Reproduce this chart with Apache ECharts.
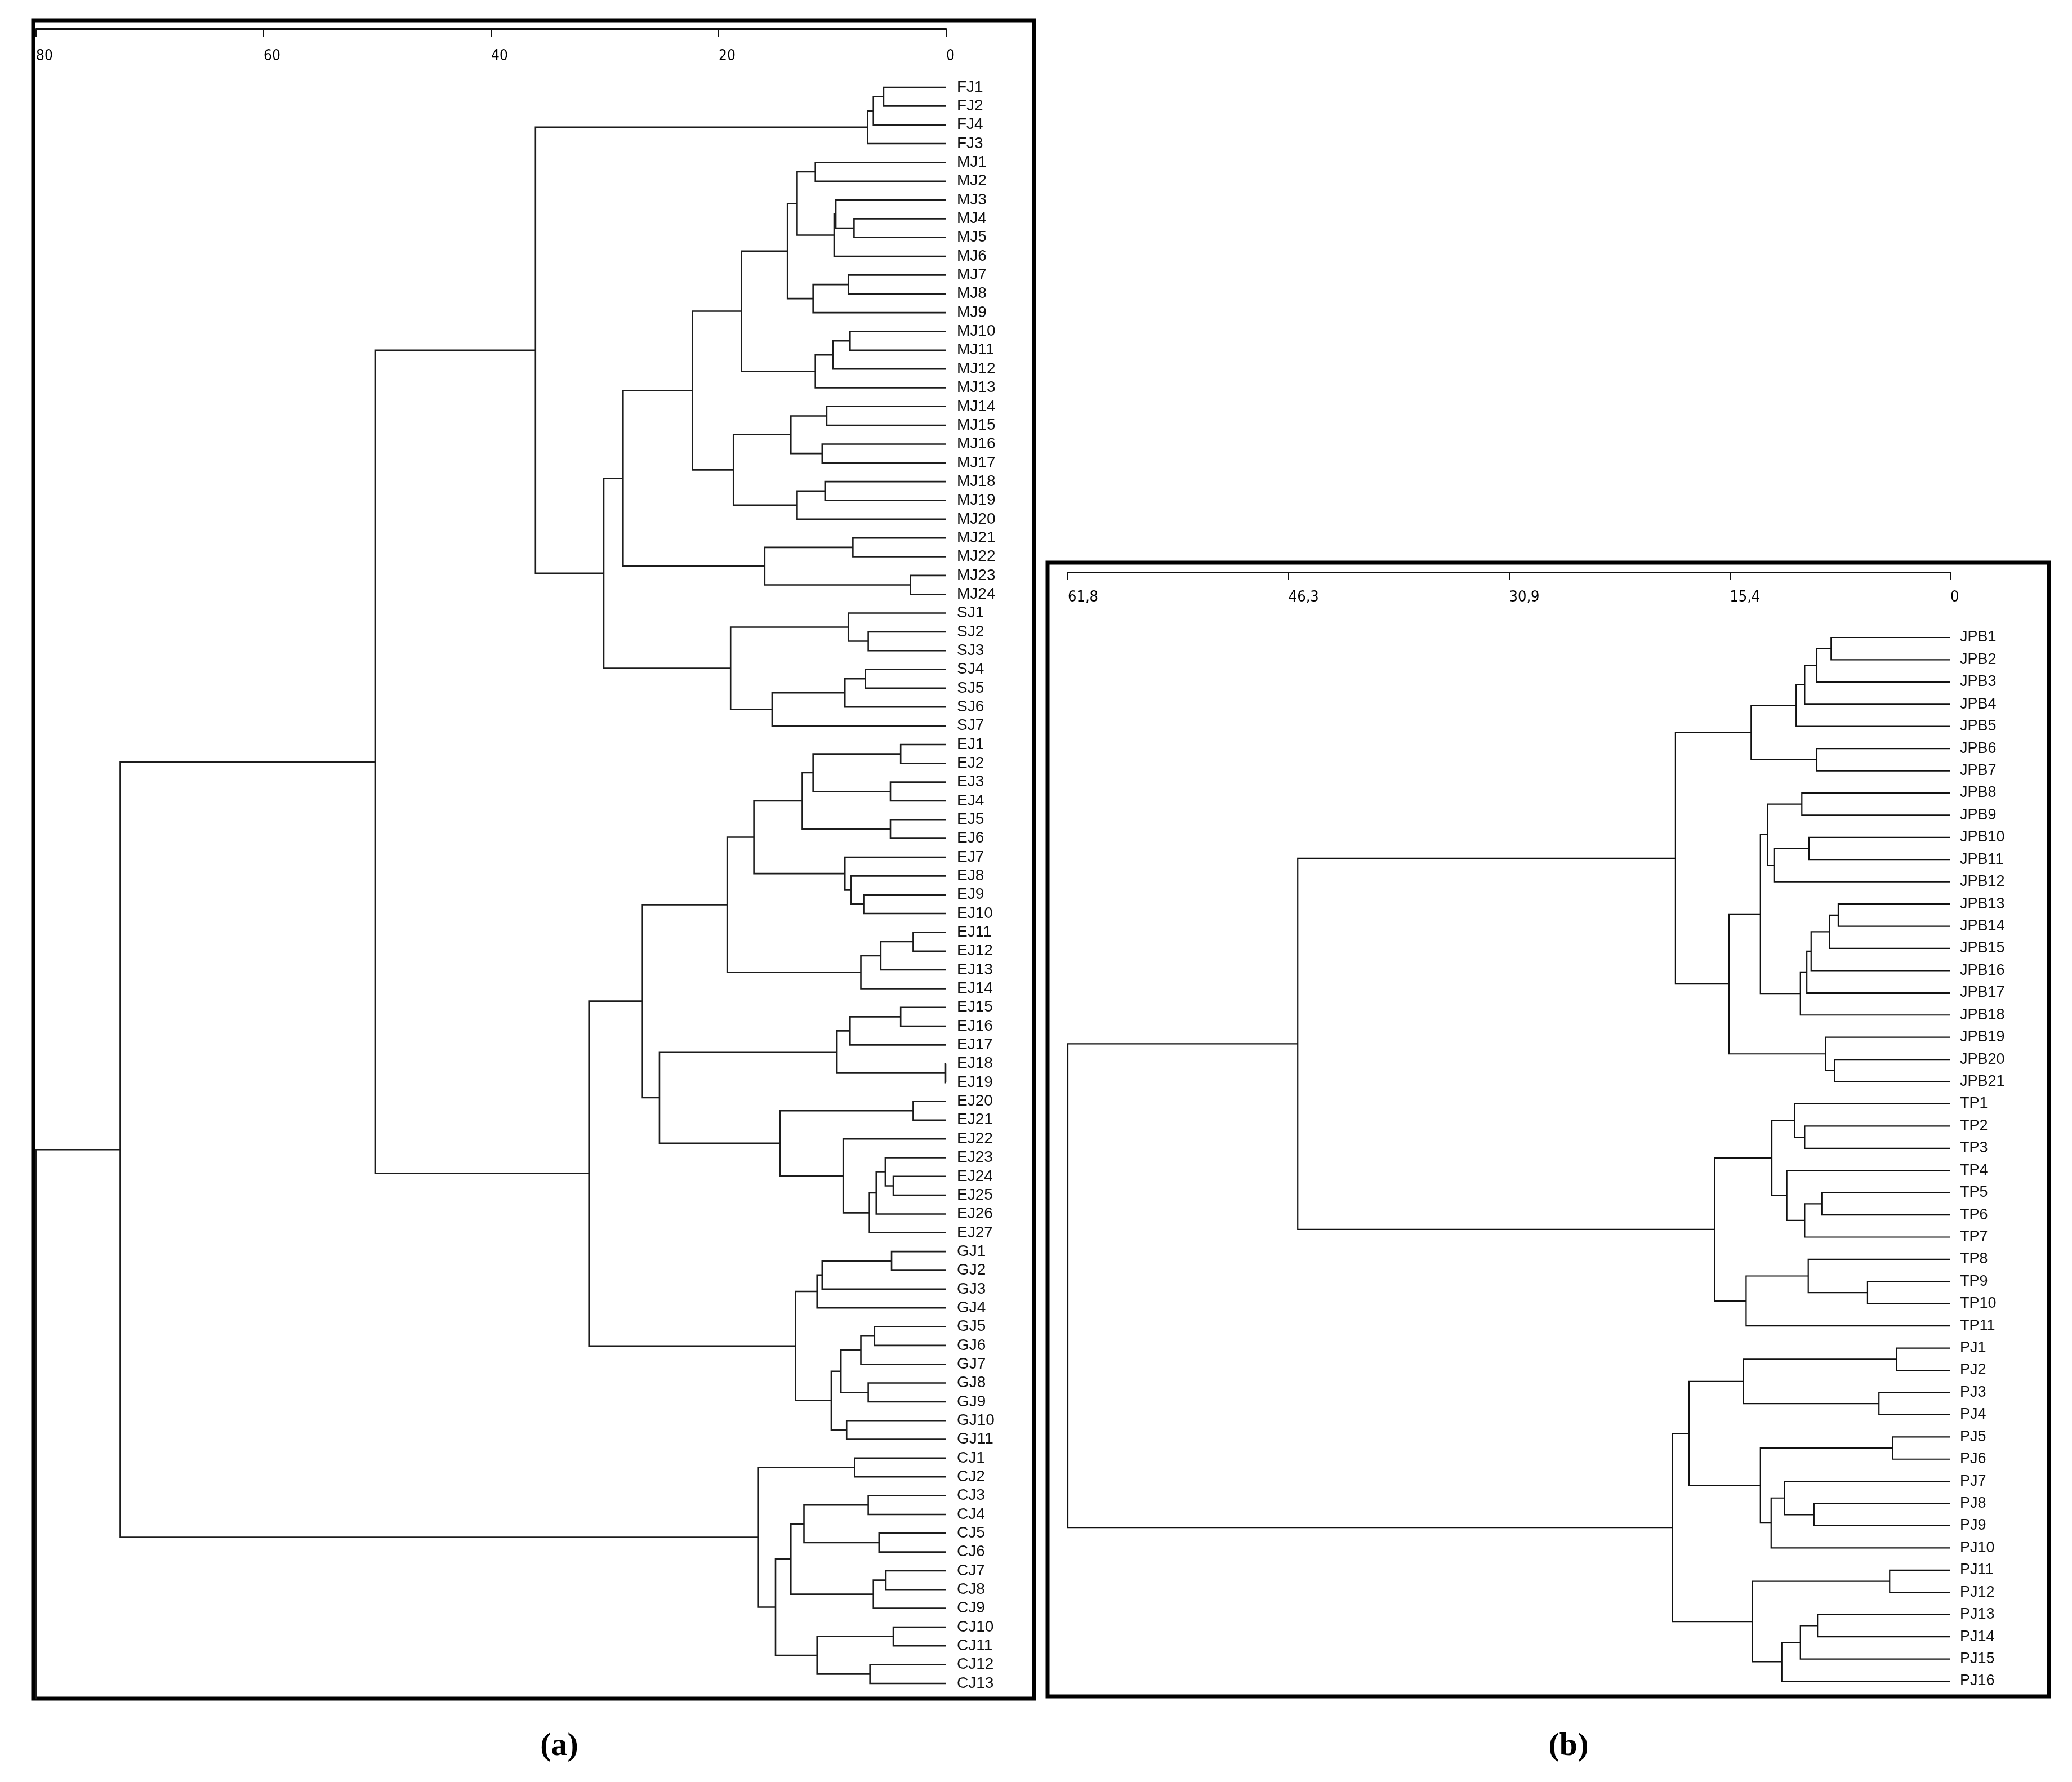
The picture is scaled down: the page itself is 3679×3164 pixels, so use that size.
<!DOCTYPE html>
<html>
<head>
<meta charset="utf-8">
<script src="https://cdn.jsdelivr.net/npm/echarts@6/dist/echarts.min.js"></script>
<style>
html,body{margin:0;padding:0;background:#fff;}
#chart{width:3679px;height:3164px;}
</style>
</head>
<body>
<div id="chart"></div>
<script>
// ---------- Panel (a) data ----------
const leavesA = [
  'FJ1','FJ2','FJ4','FJ3',
  'MJ1','MJ2','MJ3','MJ4','MJ5','MJ6','MJ7','MJ8','MJ9','MJ10','MJ11','MJ12','MJ13','MJ14','MJ15','MJ16','MJ17','MJ18','MJ19','MJ20','MJ21','MJ22','MJ23','MJ24',
  'SJ1','SJ2','SJ3','SJ4','SJ5','SJ6','SJ7',
  'EJ1','EJ2','EJ3','EJ4','EJ5','EJ6','EJ7','EJ8','EJ9','EJ10','EJ11','EJ12','EJ13','EJ14','EJ15','EJ16','EJ17','EJ18','EJ19','EJ20','EJ21','EJ22','EJ23','EJ24','EJ25','EJ26','EJ27',
  'GJ1','GJ2','GJ3','GJ4','GJ5','GJ6','GJ7','GJ8','GJ9','GJ10','GJ11',
  'CJ1','CJ2','CJ3','CJ4','CJ5','CJ6','CJ7','CJ8','CJ9','CJ10','CJ11','CJ12','CJ13'
];
// [node, childA, childB, height]
const mergesA = [
  ['F1','FJ1','FJ2',5.5],['F2','F1','FJ4',6.4],['F3','F2','FJ3',6.9],
  ['M1','MJ1','MJ2',11.5],['M2','MJ4','MJ5',8.1],['M3','MJ3','M2',9.7],['M4','M3','MJ6',9.85],
  ['M5','M1','M4',13.1],['M6','MJ7','MJ8',8.6],['M7','M6','MJ9',11.7],['M8','M5','M7',13.95],
  ['M9','MJ10','MJ11',8.45],['M10','M9','MJ12',9.95],['M11','M10','MJ13',11.5],['M12','M8','M11',18.0],
  ['M13','MJ14','MJ15',10.5],['M14','MJ16','MJ17',10.9],['M15','M13','M14',13.65],
  ['M16','MJ18','MJ19',10.65],['M17','M16','MJ20',13.1],['M18','M15','M17',18.7],['M19','M12','M18',22.3],
  ['M20','MJ21','MJ22',8.2],['M21','MJ23','MJ24',3.15],['M22','M20','M21',15.95],['M23','M19','M22',28.4],
  ['S1','SJ2','SJ3',6.85],['S2','SJ1','S1',8.6],['S3','SJ4','SJ5',7.1],['S4','S3','SJ6',8.9],
  ['S5','S4','SJ7',15.3],['S6','S2','S5',18.95],
  ['MS','M23','S6',30.1],['FMS','F3','MS',36.1],
  ['E1','EJ1','EJ2',4.0],['E2','EJ3','EJ4',4.9],['E3','E1','E2',11.7],['E4','EJ5','EJ6',4.9],['E5','E3','E4',12.65],
  ['E6','EJ9','EJ10',7.25],['E7','EJ8','E6',8.35],['E8','EJ7','E7',8.9],['E9','E5','E8',16.9],
  ['E10','EJ11','EJ12',2.9],['E11','E10','EJ13',5.75],['E12','E11','EJ14',7.5],['E13','E9','E12',19.25],
  ['E14','EJ15','EJ16',4.0],['E15','E14','EJ17',8.45],['E16','EJ18','EJ19',0.05],['E17','E15','E16',9.6],
  ['E18','EJ20','EJ21',2.9],['E19','EJ24','EJ25',4.65],['E20','EJ23','E19',5.35],['E21','E20','EJ26',6.15],
  ['E22','E21','EJ27',6.75],['E23','EJ22','E22',9.05],['E24','E18','E23',14.6],['E25','E17','E24',25.2],
  ['E26','E13','E25',26.7],
  ['G1','GJ1','GJ2',4.8],['G2','G1','GJ3',10.9],['G3','G2','GJ4',11.35],['G4','GJ5','GJ6',6.3],
  ['G5','G4','GJ7',7.5],['G6','GJ8','GJ9',6.85],['G7','G5','G6',9.25],['G8','GJ10','GJ11',8.75],
  ['G9','G7','G8',10.1],['G10','G3','G9',13.25],
  ['EG','E26','G10',31.4],['FMSEG','FMS','EG',50.2],
  ['C1','CJ1','CJ2',8.05],['C2','CJ3','CJ4',6.85],['C3','CJ5','CJ6',5.9],['C4','C2','C3',12.5],
  ['C5','CJ7','CJ8',5.3],['C6','C5','CJ9',6.4],['C7','C4','C6',13.65],['C8','CJ10','CJ11',4.65],
  ['C9','CJ12','CJ13',6.7],['C10','C8','C9',11.35],['C11','C7','C10',15.0],['C12','C1','C11',16.5],
  ['ALL','FMSEG','C12',72.6]
];
const rootHeightA = 80;
const ticksA = ['0','20','40','60','80'];
const tickStepA = 20;

// ---------- Panel (b) data ----------
const leavesB = [
  'JPB1','JPB2','JPB3','JPB4','JPB5','JPB6','JPB7','JPB8','JPB9','JPB10','JPB11','JPB12','JPB13','JPB14','JPB15','JPB16','JPB17','JPB18','JPB19','JPB20','JPB21',
  'TP1','TP2','TP3','TP4','TP5','TP6','TP7','TP8','TP9','TP10','TP11',
  'PJ1','PJ2','PJ3','PJ4','PJ5','PJ6','PJ7','PJ8','PJ9','PJ10','PJ11','PJ12','PJ13','PJ14','PJ15','PJ16'
];
const mergesB = [
  ['J1','JPB1','JPB2',8.35],['J2','J1','JPB3',9.35],['J3','J2','JPB4',10.2],['J4','J3','JPB5',10.8],
  ['J5','JPB6','JPB7',9.35],['J6','J4','J5',13.95],
  ['J7','JPB8','JPB9',10.4],['J8','JPB10','JPB11',9.9],['J9','J8','JPB12',12.35],['J10','J7','J9',12.8],
  ['J11','JPB13','JPB14',7.85],['J12','J11','JPB15',8.45],['J13','J12','JPB16',9.75],['J14','J13','JPB17',10.05],
  ['J15','J14','JPB18',10.5],['J16','J10','J15',13.3],
  ['J17','JPB20','JPB21',8.1],['J18','JPB19','J17',8.75],['J19','J16','J18',15.5],['J20','J6','J19',19.25],
  ['T1','TP2','TP3',10.2],['T2','TP1','T1',10.9],['T3','TP5','TP6',9.0],['T4','T3','TP7',10.2],
  ['T5','TP4','T4',11.45],['T6','T2','T5',12.5],['T7','TP9','TP10',5.8],['T8','TP8','T7',9.95],
  ['T9','T8','TP11',14.3],['T10','T6','T9',16.5],
  ['JT','J20','T10',45.7],
  ['P1','PJ1','PJ2',3.75],['P2','PJ3','PJ4',5.0],['P3','P1','P2',14.5],['P4','PJ5','PJ6',4.05],
  ['P5','PJ8','PJ9',9.55],['P6','PJ7','P5',11.6],['P7','P6','PJ10',12.55],['P8','P4','P7',13.3],
  ['P9','P3','P8',18.3],['P10','PJ11','PJ12',4.25],['P11','PJ13','PJ14',9.3],['P12','P11','PJ15',10.5],
  ['P13','P12','PJ16',11.8],['P14','P10','P13',13.85],['P15','P9','P14',19.45],
  ['ROOT','JT','P15',61.8]
];
const ticksB = ['0','15,4','30,9','46,3','61,8'];
const tickStepB = 15.45;

// ---------- build link items from the tree ----------
function buildLinks(leaves, merges) {
  const pos = {};
  leaves.forEach((l, i) => { pos[l] = [0, i]; });
  const items = [];
  merges.forEach(([name, a, b, h]) => {
    const pa = pos[a], pb = pos[b];
    items.push([pa[0], pa[1], h, pb[1], pb[0]]);
    pos[name] = [h, (pa[1] + pb[1]) / 2];
  });
  return { items, pos };
}
const linksA = buildLinks(leavesA, mergesA);
const linksB = buildLinks(leavesB, mergesB);
const lastA = mergesA[mergesA.length - 1];
const topA = linksA.pos[lastA[0]];
// root stem of panel (a): horizontal to root height, then down to frame bottom
linksA.items.push([topA[0], topA[1], rootHeightA, leavesA.length - 1 + 0.85, rootHeightA]);

function renderer(color, width) {
  return function (params, api) {
    const xa = api.value(0), ya = api.value(1), h = api.value(2), yb = api.value(3), xb = api.value(4);
    const pts = [api.coord([xa, ya]), api.coord([h, ya]), api.coord([h, yb]), api.coord([xb, yb])];
    return { type: 'polyline', shape: { points: pts }, style: { stroke: color, lineWidth: width, fill: null } };
  };
}

const tickFont = "'Liberation Sans Narrow','DejaVu Sans Condensed','Liberation Sans',sans-serif";
const leafFont = "'Liberation Sans',Arial,sans-serif";
const H = 3164;

function hiddenX(grid, max) {
  return { gridIndex: grid, type: 'value', min: 0, max: max, inverse: true, show: false,
    axisLine: { show: false }, axisTick: { show: false }, axisLabel: { show: false }, splitLine: { show: false } };
}
function scaleX(grid, max, step, labels, fontSize, margin, tickLen) {
  return { gridIndex: grid, type: 'value', min: 0, max: max, interval: step, inverse: true, position: 'bottom',
    axisLine: { show: true, lineStyle: { color: '#111', width: 3 } },
    axisTick: { show: true, length: tickLen, lineStyle: { color: '#111', width: 2 } },
    axisLabel: { margin: margin, align: 'left', fontSize: fontSize, fontFamily: tickFont, color: '#000',
      formatter: v => labels[Math.round(v / step)] },
    splitLine: { show: false } };
}
function hiddenY(grid) {
  return { gridIndex: grid, type: 'value', min: 0, max: 1, show: false,
    axisLine: { show: false }, axisTick: { show: false }, axisLabel: { show: false }, splitLine: { show: false } };
}

const chart = echarts.init(document.getElementById('chart'), null, { renderer: 'canvas' });
chart.setOption({
  backgroundColor: '#ffffff',
  animation: false,
  grid: [
    { left: 64, right: 1999, top: 155, bottom: 175, outerBoundsMode: 'none' },
    { left: 1896, right: 216, top: 1132, bottom: 179, outerBoundsMode: 'none' },
    { left: 64, right: 1999, top: 50, bottom: H - 51, outerBoundsMode: 'none' },
    { left: 1896, right: 216, top: 1015, bottom: H - 1016, outerBoundsMode: 'none' }
  ],
  xAxis: [
    hiddenX(0, 80),
    hiddenX(1, 61.8),
    scaleX(2, 80, tickStepA, ticksA, 26, 36, 14),
    scaleX(3, 61.8, tickStepB, ticksB, 27, 31, 13)
  ],
  yAxis: [
    {
      gridIndex: 0, type: 'value', min: 0, max: leavesA.length - 1, interval: 1, inverse: true,
      position: 'right',
      axisLine: { show: false }, axisTick: { show: false }, splitLine: { show: false },
      axisLabel: { margin: 19, align: 'left', fontSize: 28, fontFamily: leafFont, color: '#111',
        formatter: v => leavesA[Math.round(v)] || '' }
    },
    {
      gridIndex: 1, type: 'value', min: 0, max: leavesB.length - 1, interval: 1, inverse: true,
      position: 'right',
      axisLine: { show: false }, axisTick: { show: false }, splitLine: { show: false },
      axisLabel: { margin: 17, align: 'left', fontSize: 27, fontFamily: leafFont, color: '#111',
        formatter: v => leavesB[Math.round(v)] || '' }
    },
    hiddenY(2),
    hiddenY(3)
  ],
  series: [
    {
      type: 'custom', xAxisIndex: 0, yAxisIndex: 0, silent: true, clip: false,
      renderItem: renderer('#1c1c1c', 2.6),
      encode: { x: [0, 2, 4], y: [1, 3] },
      data: linksA.items
    },
    {
      type: 'custom', xAxisIndex: 1, yAxisIndex: 1, silent: true, clip: false,
      renderItem: renderer('#111', 2.2),
      encode: { x: [0, 2, 4], y: [1, 3] },
      data: linksB.items
    }
  ],
  graphic: [
    { type: 'rect', shape: { x: 59, y: 36, width: 1777, height: 2980 }, style: { fill: null, stroke: '#000', lineWidth: 7 }, silent: true },
    { type: 'rect', shape: { x: 1860, y: 999, width: 1778, height: 2013 }, style: { fill: null, stroke: '#000', lineWidth: 7 }, silent: true },
    { type: 'text', x: 993, y: 3101, style: { text: '(a)', font: "bold 58px 'Liberation Serif', 'DejaVu Serif', serif", fill: '#000', align: 'center', verticalAlign: 'middle' } },
    { type: 'text', x: 2785, y: 3101, style: { text: '(b)', font: "bold 58px 'Liberation Serif', 'DejaVu Serif', serif", fill: '#000', align: 'center', verticalAlign: 'middle' } }
  ]
});
</script>
</body>
</html>
